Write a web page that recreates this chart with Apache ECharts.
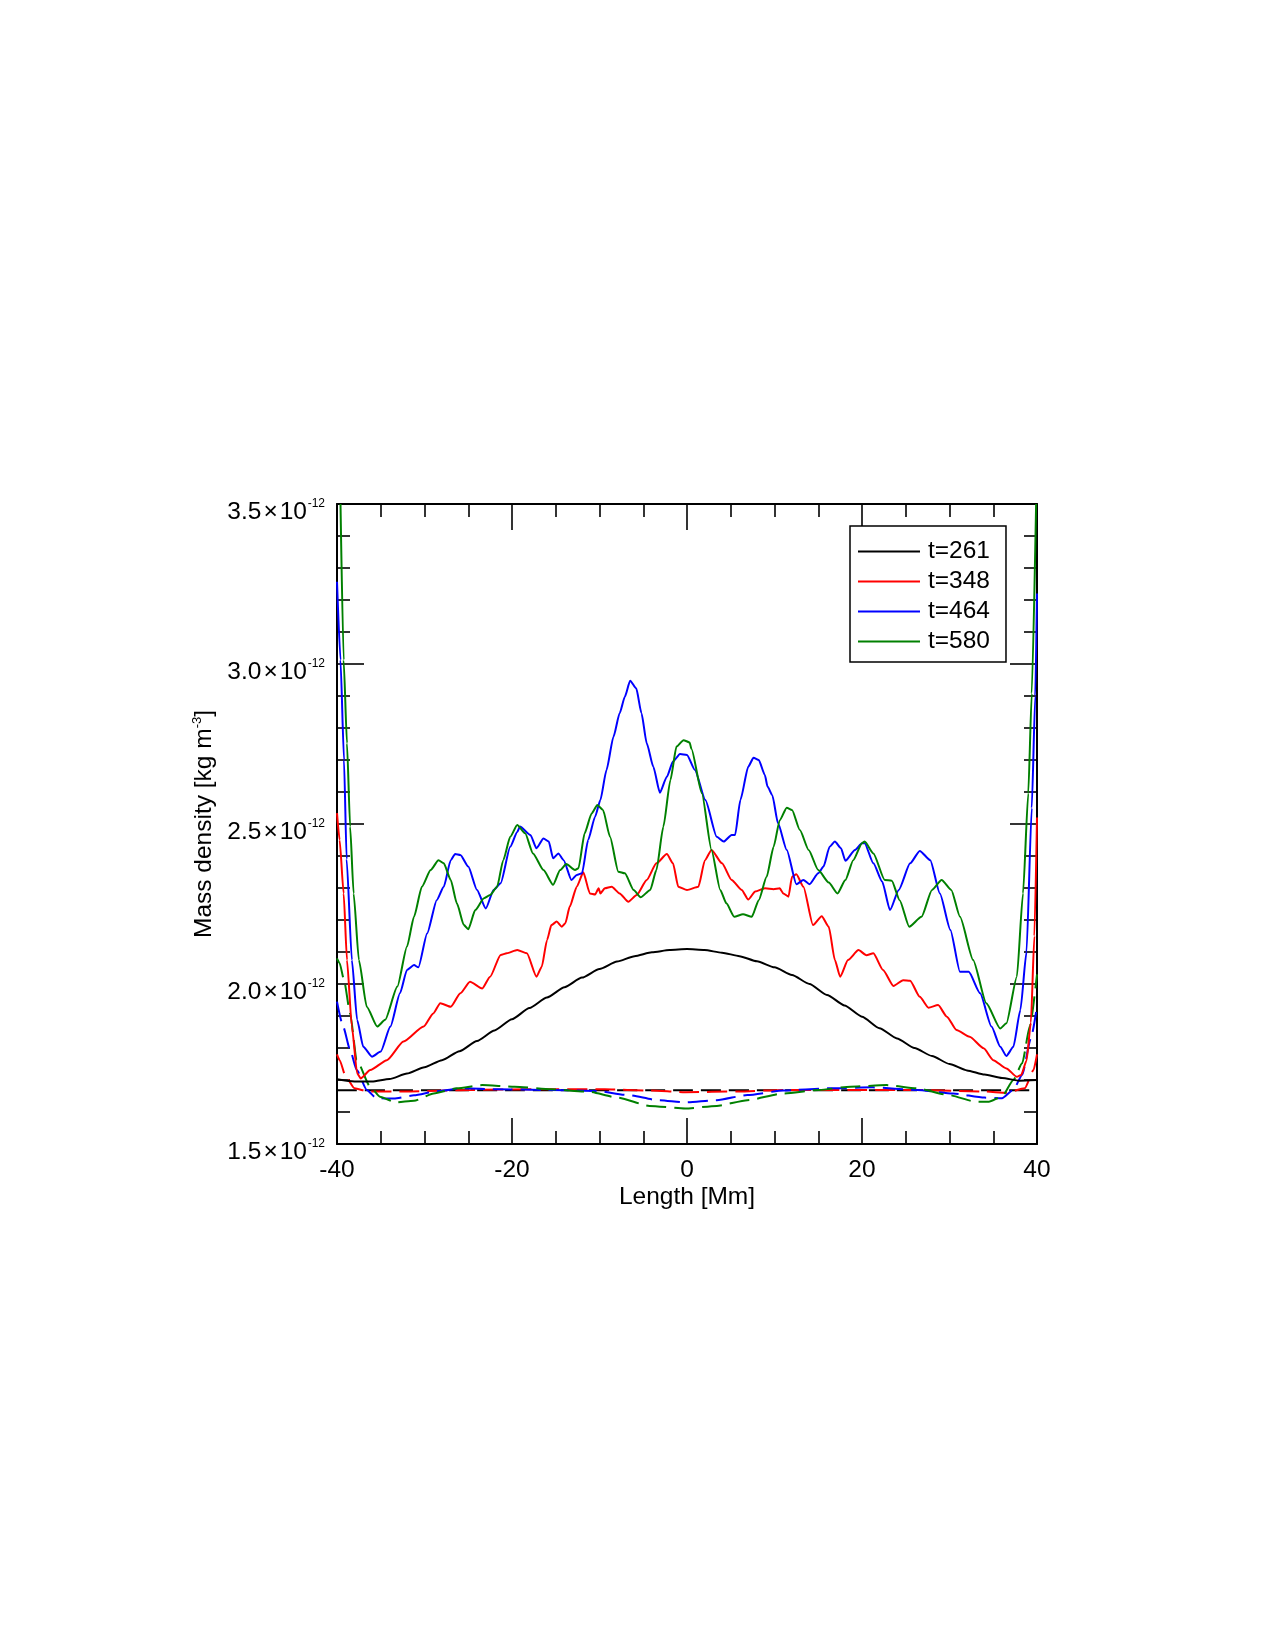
<!DOCTYPE html>
<html>
<head>
<meta charset="utf-8">
<title>Mass density</title>
<script src="https://cdn.jsdelivr.net/npm/echarts@6.0.0/dist/echarts.min.js"></script>
<style>
  html, body { margin: 0; padding: 0; background: #fff; }
  #chart { width: 1275px; height: 1650px; }
</style>
</head>
<body>
<div id="chart"></div>
<script>
// x = length [Mm], y = mass density in units of 1e-12 kg m^-3
var legendNames = ['t=261', 't=348', 't=464', 't=580'];
var xTicks = [-40, -20, 0, 20, 40];
var yTicks = [1.5, 2.0, 2.5, 3.0, 3.5];
var yExponent = '-12';

var solid261 = [[-40,1.702],[-38,1.695],[-36,1.695],[-34,1.703],[-32,1.72],[-30,1.74],[-28,1.762],[-26,1.79],[-24,1.822],[-22,1.855],[-20,1.89],[-18,1.925],[-16,1.958],[-14,1.99],[-12,2.02],[-10,2.047],[-8,2.07],[-6,2.087],[-4,2.099],[-2,2.106],[0,2.109],[2,2.106],[4,2.098],[6,2.087],[8,2.071],[10,2.052],[12,2.028],[14,2.0],[16,1.966],[18,1.933],[20,1.898],[22,1.862],[24,1.83],[26,1.8],[28,1.775],[30,1.75],[32,1.73],[34,1.717],[36,1.706],[38,1.698],[40,1.70]];

var solid348 = [[-40,2.534],[-39.7,2.45],[-39.24,2.283],[-38.86,2.075],[-38.3,1.867],[-37.7,1.721],[-37.3,1.705],[-36.2,1.731],[-34.3,1.762],[-32.4,1.82],[-30.1,1.867],[-29,1.908],[-28.2,1.94],[-27,1.929],[-25.9,1.971],[-24.8,2.007],[-23.4,1.986],[-22.5,2.023],[-21.3,2.091],[-20.6,2.096],[-19.4,2.106],[-18.3,2.096],[-17.2,2.023],[-16.6,2.054],[-16,2.137],[-15.5,2.184],[-14.9,2.195],[-14.3,2.179],[-13.9,2.19],[-13.4,2.242],[-12.6,2.304],[-11.85,2.349],[-11.1,2.283],[-10.5,2.28],[-10.1,2.299],[-9.9,2.283],[-9.4,2.299],[-8.6,2.304],[-7.7,2.283],[-6.7,2.257],[-5.75,2.278],[-4.6,2.325],[-3.5,2.377],[-2.3,2.406],[-1.6,2.377],[-1,2.304],[0,2.294],[1.3,2.304],[2.05,2.387],[2.8,2.419],[4,2.377],[5.1,2.325],[6.25,2.294],[7,2.264],[7.8,2.289],[8.9,2.299],[9.9,2.296],[10.6,2.299],[11,2.283],[11.6,2.273],[12,2.335],[12.5,2.343],[13.3,2.304],[14.4,2.184],[15.4,2.212],[16.2,2.179],[16.9,2.075],[17.5,2.023],[18.4,2.075],[19.6,2.106],[20.5,2.09],[21.3,2.096],[22.4,2.044],[23.6,1.994],[24.7,2.012],[25.5,2.01],[26.6,1.96],[27.6,1.926],[28.7,1.934],[29.7,1.898],[30.8,1.856],[32.3,1.835],[33.9,1.799],[35,1.762],[36.5,1.736],[37.7,1.71],[38.2,1.716],[38.8,1.76],[39.3,1.88],[39.7,2.15],[40,2.52]];

var solid464 = [[-40,3.257],[-39.6,3.0125],[-39.2,2.70],[-38.9,2.39],[-38.3,2.075],[-37.7,1.888],[-37,1.804],[-36,1.773],[-35,1.789],[-33.9,1.867],[-32.8,1.971],[-32,2.044],[-31.2,2.059],[-30.7,2.052],[-29.7,2.158],[-28.6,2.262],[-27.8,2.304],[-27,2.387],[-26.5,2.406],[-25.9,2.403],[-25,2.367],[-24,2.294],[-23,2.236],[-22.1,2.294],[-21.3,2.315],[-20.2,2.429],[-19.4,2.475],[-19.1,2.492],[-17.9,2.466],[-17.2,2.424],[-16.4,2.455],[-15.8,2.445],[-15.3,2.393],[-14.7,2.408],[-14.1,2.387],[-13.2,2.325],[-12.6,2.341],[-12,2.346],[-11.3,2.45],[-10.5,2.523],[-9.9,2.575],[-9.2,2.669],[-8.4,2.773],[-7.7,2.846],[-7.1,2.898],[-6.5,2.948],[-5.8,2.924],[-5.2,2.846],[-4.6,2.752],[-3.85,2.679],[-3.1,2.598],[-2.3,2.648],[-1.6,2.695],[-0.8,2.719],[0,2.716],[0.9,2.669],[2.1,2.575],[3.4,2.46],[4.2,2.445],[5.1,2.466],[5.5,2.466],[6.1,2.575],[7,2.679],[7.6,2.707],[8.2,2.70],[8.9,2.653],[9.2,2.617],[9.75,2.59],[10.4,2.502],[11.4,2.419],[12.5,2.312],[13.3,2.325],[14,2.312],[15,2.346],[15.6,2.367],[16.3,2.429],[16.9,2.445],[17.6,2.424],[18.1,2.385],[19.2,2.419],[20,2.44],[20.3,2.44],[21.3,2.377],[22.3,2.32],[23.2,2.231],[24.2,2.294],[25.5,2.377],[26.6,2.416],[27.8,2.387],[28.9,2.283],[30.1,2.169],[31.2,2.038],[32.2,2.038],[33.5,1.971],[34.8,1.867],[35.8,1.804],[36.5,1.775],[37.3,1.804],[38.1,1.919],[38.8,2.1],[39.4,2.55],[39.8,2.9],[40,3.22]];

var solid580 = [[-39.6,3.5],[-39.24,3.0125],[-38.86,2.752],[-38.5,2.492],[-38.1,2.283],[-37.5,2.075],[-36.6,1.929],[-35.4,1.867],[-34.5,1.888],[-33.1,1.992],[-32,2.117],[-31.2,2.21],[-30.3,2.304],[-29.3,2.356],[-28.4,2.387],[-27.8,2.377],[-27,2.325],[-26.3,2.252],[-25.5,2.184],[-25,2.171],[-24.2,2.231],[-23.2,2.268],[-22.5,2.278],[-21.7,2.304],[-21,2.387],[-20.2,2.46],[-19.4,2.497],[-18.5,2.471],[-17.6,2.408],[-16.4,2.356],[-15.3,2.31],[-14.5,2.356],[-13.8,2.375],[-12.8,2.356],[-12.4,2.362],[-11.7,2.471],[-10.9,2.533],[-10.25,2.559],[-9.6,2.544],[-8.8,2.46],[-7.85,2.351],[-7.1,2.346],[-6.1,2.294],[-5.3,2.271],[-4.2,2.294],[-3.5,2.356],[-2.7,2.492],[-1.9,2.637],[-1.2,2.742],[-0.4,2.762],[0.3,2.755],[0.5,2.735],[1.7,2.596],[2.8,2.419],[3.8,2.294],[4.5,2.252],[5.4,2.21],[6.4,2.218],[7.4,2.21],[8.2,2.262],[9.1,2.335],[9.9,2.429],[10.6,2.512],[11.4,2.551],[12,2.544],[12.9,2.481],[13.9,2.419],[15,2.356],[16.2,2.317],[17.2,2.283],[18.1,2.325],[19,2.387],[20,2.44],[20.3,2.445],[21.3,2.408],[22.6,2.325],[23.4,2.323],[24.3,2.262],[25.4,2.179],[26.8,2.21],[28,2.294],[29.1,2.325],[30.2,2.294],[31.2,2.21],[32.7,2.075],[34.2,1.94],[35.8,1.861],[36.5,1.877],[37.7,2.023],[38.4,2.283],[39,2.596],[39.4,2.908],[39.9,3.5]];

var dash261 = [[-40,1.668],[-20,1.668],[0,1.668],[20,1.668],[40,1.668]];

var dash348 = [[-40,1.78],[-39.7,1.762],[-39,1.71],[-38,1.674],[-36.4,1.664],[-32.3,1.664],[-24.7,1.669],[-17,1.671],[-9.4,1.671],[-4.3,1.667],[-0.2,1.662],[5.9,1.664],[11,1.669],[18.7,1.669],[26.3,1.669],[34,1.664],[36.5,1.66],[38.6,1.674],[39.6,1.731],[40,1.78]];

var dash464 = [[-40,1.945],[-39.3,1.867],[-38.5,1.794],[-37.75,1.731],[-36.6,1.669],[-35.5,1.643],[-33.5,1.642],[-31.2,1.652],[-28.6,1.665],[-25.6,1.674],[-21.7,1.671],[-16,1.669],[-10.4,1.666],[-6.8,1.653],[-3.3,1.637],[-0.2,1.630],[3.4,1.637],[6.9,1.653],[11,1.667],[16.1,1.674],[21.2,1.677],[26.3,1.669],[30.4,1.658],[34,1.645],[36,1.643],[37.3,1.669],[38.3,1.716],[39.3,1.83],[40,1.93]];

var dash580 = [[-40,2.08],[-39.7,2.065],[-39.2,2.0125],[-38.5,1.908],[-37.75,1.7625],[-36.2,1.679],[-35.1,1.648],[-33.3,1.630],[-31.2,1.635],[-28.95,1.658],[-26.3,1.674],[-23.4,1.684],[-19.7,1.679],[-15.5,1.671],[-11.4,1.664],[-7.9,1.645],[-4.3,1.619],[-0.2,1.611],[3.4,1.619],[6.9,1.637],[11,1.658],[15.1,1.669],[18.7,1.679],[22.8,1.684],[26.3,1.674],[29.9,1.653],[33,1.632],[34.5,1.632],[36,1.648],[37.3,1.70],[38.3,1.752],[39.2,1.87],[40,2.03]];

var FONT = 'Liberation Sans, Arial, Helvetica, sans-serif';

/**
 * one line series
 */
function makeLine(name, data, color, dashed){
  return {
    type: 'line',
    name: name,
    data: data,
    symbol: 'none',
    showSymbol: false,
    smooth: 0.2,
    smoothMonotone: 'x',
    animation: false,
    lineStyle: { color: color, width: 2, type: dashed ? [20, 8] : 'solid' },
    itemStyle: { color: color },
    z: dashed ? 2 : 3
  }
}

/**
 * axis pieces shared by the four sides
 */
function xSide(pos, showLabel){
  return {
    type: 'value', position: pos, min: -40, max: 40, interval: 20,
    axisLine: { show: true, onZero: false, lineStyle: { color: '#000', width: 2 } },
    axisTick: { show: true, inside: true, length: 26, lineStyle: { color: '#000', width: 1.6 } },
    minorTick: { show: true, splitNumber: 4, length: 13, lineStyle: { color: '#000', width: 1.6 } },
    splitLine: { show: false },
    axisLabel: { show: showLabel, color: '#000', fontSize: 24.5, fontFamily: FONT, margin: 14,
      customValues: showLabel ? xTicks : undefined },
    name: showLabel ? 'Length [Mm]' : '',
    nameLocation: 'middle', nameGap: 41,
    nameTextStyle: { color: '#000', fontSize: 24.5, fontFamily: FONT }
  }
}
function ySide(pos, showLabel){
  return {
    type: 'value', position: pos, min: 1.5, max: 3.5, interval: 0.5,
    axisLine: { show: true, onZero: false, lineStyle: { color: '#000', width: 2 } },
    axisTick: { show: true, inside: true, length: 27, lineStyle: { color: '#000', width: 1.6 } },
    minorTick: { show: true, splitNumber: 5, length: 13, lineStyle: { color: '#000', width: 1.6 } },
    splitLine: { show: false },
    axisLabel: {
      show: showLabel, margin: 30, color: '#000', fontSize: 24.5, fontFamily: FONT,
      verticalAlign: 'top', lineHeight: 16,
      customValues: showLabel ? yTicks : undefined,
      formatter: function(v){ return v.toFixed(1) + '\u200A×\u200A10' }
    },
    name: showLabel ? '{a|Mass density [kg m}{s|-3}{a|]}' : '',
    nameLocation: 'middle', nameGap: 116,
    nameTextStyle: {
      color: '#000', fontSize: 24.5, fontFamily: FONT,
      rich: {
        a: { fontSize: 24.5, fontFamily: FONT, color: '#000', lineHeight: 25, padding: [10, 0, 0, 0], verticalAlign: 'bottom' },
        s: { fontSize: 13, fontFamily: FONT, color: '#000', lineHeight: 13, verticalAlign: 'top' }
      }
    }
  }
}

// exponent labels sit on their own bare axis, just above each tick
var yExpAxis = {
  type: 'value', position: 'left', min: 1.5, max: 3.5, interval: 0.5,
  axisLine: { show: false }, axisTick: { show: false }, splitLine: { show: false },
  axisLabel: {
    show: true, margin: 12, color: '#000', fontSize: 12, fontFamily: FONT,
    verticalAlign: 'middle', customValues: yTicks,
    formatter: function(){ return yExponent }
  }
};

var option = {
  backgroundColor: '#fff',
  animation: false,
  grid: { left: 337, top: 504, width: 700, height: 640, containLabel: false, outerBoundsMode: 'none' },
  legend: {
    data: legendNames,
    orient: 'vertical',
    left: 850, top: 526,
    padding: [13, 16, 8, 7],
    itemWidth: 62, itemHeight: 14, itemGap: 5,
    borderColor: '#000', borderWidth: 1.5, borderRadius: 0,
    backgroundColor: '#fff',
    itemStyle: { opacity: 0 },
    textStyle: { color: '#000', fontSize: 24.5, fontFamily: FONT, padding: [0, 0, 0, 3] }
  },
  xAxis: [xSide('bottom', true), xSide('top', false)],
  yAxis: [ySide('left', true), ySide('right', false), yExpAxis],
  series: [
    makeLine('t=261 dashed', dash261, '#000000', true),
    makeLine('t=348 dashed', dash348, '#ff0000', true),
    makeLine('t=464 dashed', dash464, '#0000ff', true),
    makeLine('t=580 dashed', dash580, '#008000', true),
    makeLine('t=261', solid261, '#000000', false),
    makeLine('t=348', solid348, '#ff0000', false),
    makeLine('t=464', solid464, '#0000ff', false),
    makeLine('t=580', solid580, '#008000', false)
  ]
};

var myChart = echarts.init(document.getElementById('chart'), null, { renderer: 'canvas' });
myChart.setOption(option, true);
</script>
</body>
</html>
